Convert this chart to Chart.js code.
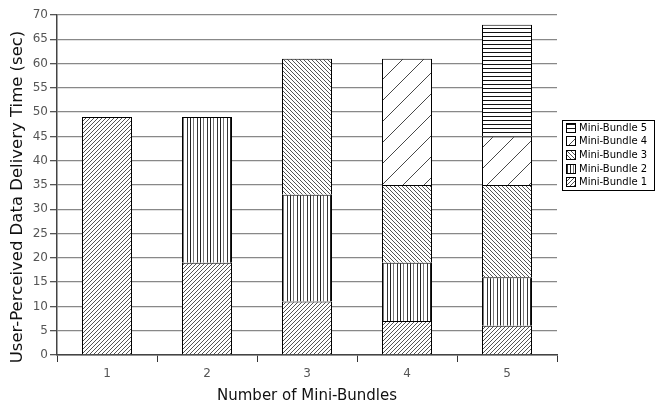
<!DOCTYPE html>
<html>
<head>
<meta charset="utf-8">
<script src="https://cdn.jsdelivr.net/npm/chart.js@4/dist/chart.umd.min.js"></script>
<style>
  html, body { margin: 0; padding: 0; background: #fff; }
  canvas { display: block; }
</style>
</head>
<body>
<canvas id="chart" width="664" height="409"></canvas>
<script>
// Delivery time per mini-bundle, stacked by bundle count (seconds)
const categories = ['1', '2', '3', '4', '5'];
const bundle1 = [49, 19, 11, 7, 6];
const bundle2 = [null, 30, 22, 12, 10];
const bundle3 = [null, null, 28, 16, 19];
const bundle4 = [null, null, null, 26, 10];
const bundle5 = [null, null, null, null, 23];
const seriesLabels = ['Mini-Bundle 1', 'Mini-Bundle 2', 'Mini-Bundle 3', 'Mini-Bundle 4', 'Mini-Bundle 5'];
const yMin = 0, yMax = 70, yStep = 5;
const xTitle = 'Number of Mini-Bundles';
const yTitle = 'User-Perceived Data Delivery Time (sec)';

// Hatch fills built on small tiles
function tile(w, h, draw) {
  const c = document.createElement('canvas');
  c.width = w; c.height = h;
  const g = c.getContext('2d');
  g.fillStyle = '#fff';
  g.fillRect(0, 0, w, h);
  draw(g, w, h);
  return c.getContext('2d').createPattern(c, 'repeat');
}
function forward(s, color, lw) {
  return tile(s, s, (g) => {
    g.strokeStyle = color; g.lineWidth = lw;
    g.beginPath();
    g.moveTo(-1, s + 1); g.lineTo(s + 1, -1);
    g.moveTo(-1, 1); g.lineTo(1, -1);
    g.moveTo(s - 1, s + 1); g.lineTo(s + 1, s - 1);
    g.stroke();
  });
}
function backward(s, color, lw) {
  return tile(s, s, (g) => {
    g.strokeStyle = color; g.lineWidth = lw;
    g.beginPath();
    g.moveTo(-1, -1); g.lineTo(s + 1, s + 1);
    g.moveTo(s - 1, -1); g.lineTo(s + 1, 1);
    g.moveTo(-1, s - 1); g.lineTo(1, s + 1);
    g.stroke();
  });
}
function vertical() {
  return tile(10, 1, (g) => {
    g.fillStyle = '#222'; g.fillRect(0, 0, 1, 1);
    g.fillStyle = '#777'; g.fillRect(3, 0, 1, 1);
    g.fillStyle = '#333'; g.fillRect(7, 0, 1, 1);
  });
}
function horizontal() {
  return tile(1, 4, (g) => {
    g.fillStyle = '#111'; g.fillRect(0, 0, 1, 1);
  });
}

const fills = [
  forward(4, '#555', 1),
  vertical(),
  backward(4, '#555', 1),
  forward(21, '#333', 0.9),
  horizontal()
];
const values = [bundle1, bundle2, bundle3, bundle4, bundle5];

// Rotated axis title, centred a little below the plot middle
const sideTitle = {
  id: 'sideTitle',
  afterDraw(chart, args, o) {
    const ctx = chart.ctx;
    ctx.save();
    ctx.translate(o.x, o.y);
    ctx.rotate(-Math.PI / 2);
    ctx.font = o.font;
    ctx.fillStyle = o.color;
    ctx.textAlign = 'center';
    ctx.textBaseline = 'middle';
    ctx.fillText(o.text, 0, 0);
    ctx.restore();
  }
};

// Legend with a framed box, newest bundle on top
const boxedLegend = {
  id: 'boxedLegend',
  afterDraw(chart, args, o) {
    const ctx = chart.ctx;
    const sets = chart.data.datasets.slice().reverse();
    const h = o.rowHeight * sets.length + o.pad * 2;
    ctx.save();
    ctx.fillStyle = '#fff';
    ctx.fillRect(o.x, o.y, o.width, h);
    ctx.strokeStyle = '#000';
    ctx.lineWidth = 1;
    ctx.strokeRect(o.x + 0.5, o.y + 0.5, o.width, h);
    ctx.font = '10px "DejaVu Sans"';
    ctx.textBaseline = 'middle';
    sets.forEach((ds, i) => {
      const cy = Math.round(o.y + o.pad + o.rowHeight * i + o.rowHeight / 2);
      ctx.fillStyle = ds.backgroundColor;
      ctx.fillRect(o.x + 4, cy - 5, 10, 10);
      ctx.strokeStyle = '#000';
      ctx.strokeRect(o.x + 4.5, cy - 4.5, 9, 9);
      ctx.fillStyle = '#000';
      ctx.fillText(ds.label, o.x + 17, cy + 0.5);
    });
    ctx.restore();
  }
};

new Chart(document.getElementById('chart'), {
  type: 'bar',
  data: {
    labels: categories,
    datasets: values.map((v, i) => ({
      label: seriesLabels[i],
      data: v,
      backgroundColor: fills[i],
      borderColor: '#000',
      borderWidth: { top: 1, left: 1, right: 1, bottom: 0 },
      borderSkipped: false,
      barPercentage: 0.5,
      categoryPercentage: 1.0
    }))
  },
  options: {
    responsive: false,
    animation: false,
    devicePixelRatio: 1,
    layout: { padding: { top: 15, right: 107, bottom: 0, left: 0 } },
    plugins: {
      legend: { display: false },
      tooltip: { enabled: false },
      boxedLegend: { x: 562, y: 120, width: 92, rowHeight: 13.6, pad: 1 },
      sideTitle: { text: yTitle, x: 18, y: 197, font: '16.5px "DejaVu Sans"', color: '#111' }
    },
    scales: {
      x: {
        stacked: true,
        offset: true,
        afterFit(s) { s.height = 54; },
        grid: { offset: true, drawOnChartArea: false, drawTicks: true, tickLength: 7, color: '#333', lineWidth: 1 },
        border: { color: '#444', width: 1.5 },
        ticks: { color: '#555', font: { family: 'DejaVu Sans', size: 12 }, padding: 5 },
        title: { display: true, text: xTitle, color: '#111', font: { family: 'DejaVu Sans', size: 15 }, padding: { top: 0, bottom: 4 } }
      },
      y: {
        stacked: true,
        min: yMin,
        max: yMax,
        afterFit(s) { s.width = 57; },
        grid: { color: '#888', lineWidth: 1.3, tickLength: 7, tickColor: '#555' },
        border: { color: '#444', width: 1.5 },
        ticks: { stepSize: yStep, color: '#555', font: { family: 'DejaVu Sans', size: 12 }, padding: 2 },
        title: { display: false }
      }
    }
  },
  plugins: [boxedLegend, sideTitle]
});
</script>
</body>
</html>
